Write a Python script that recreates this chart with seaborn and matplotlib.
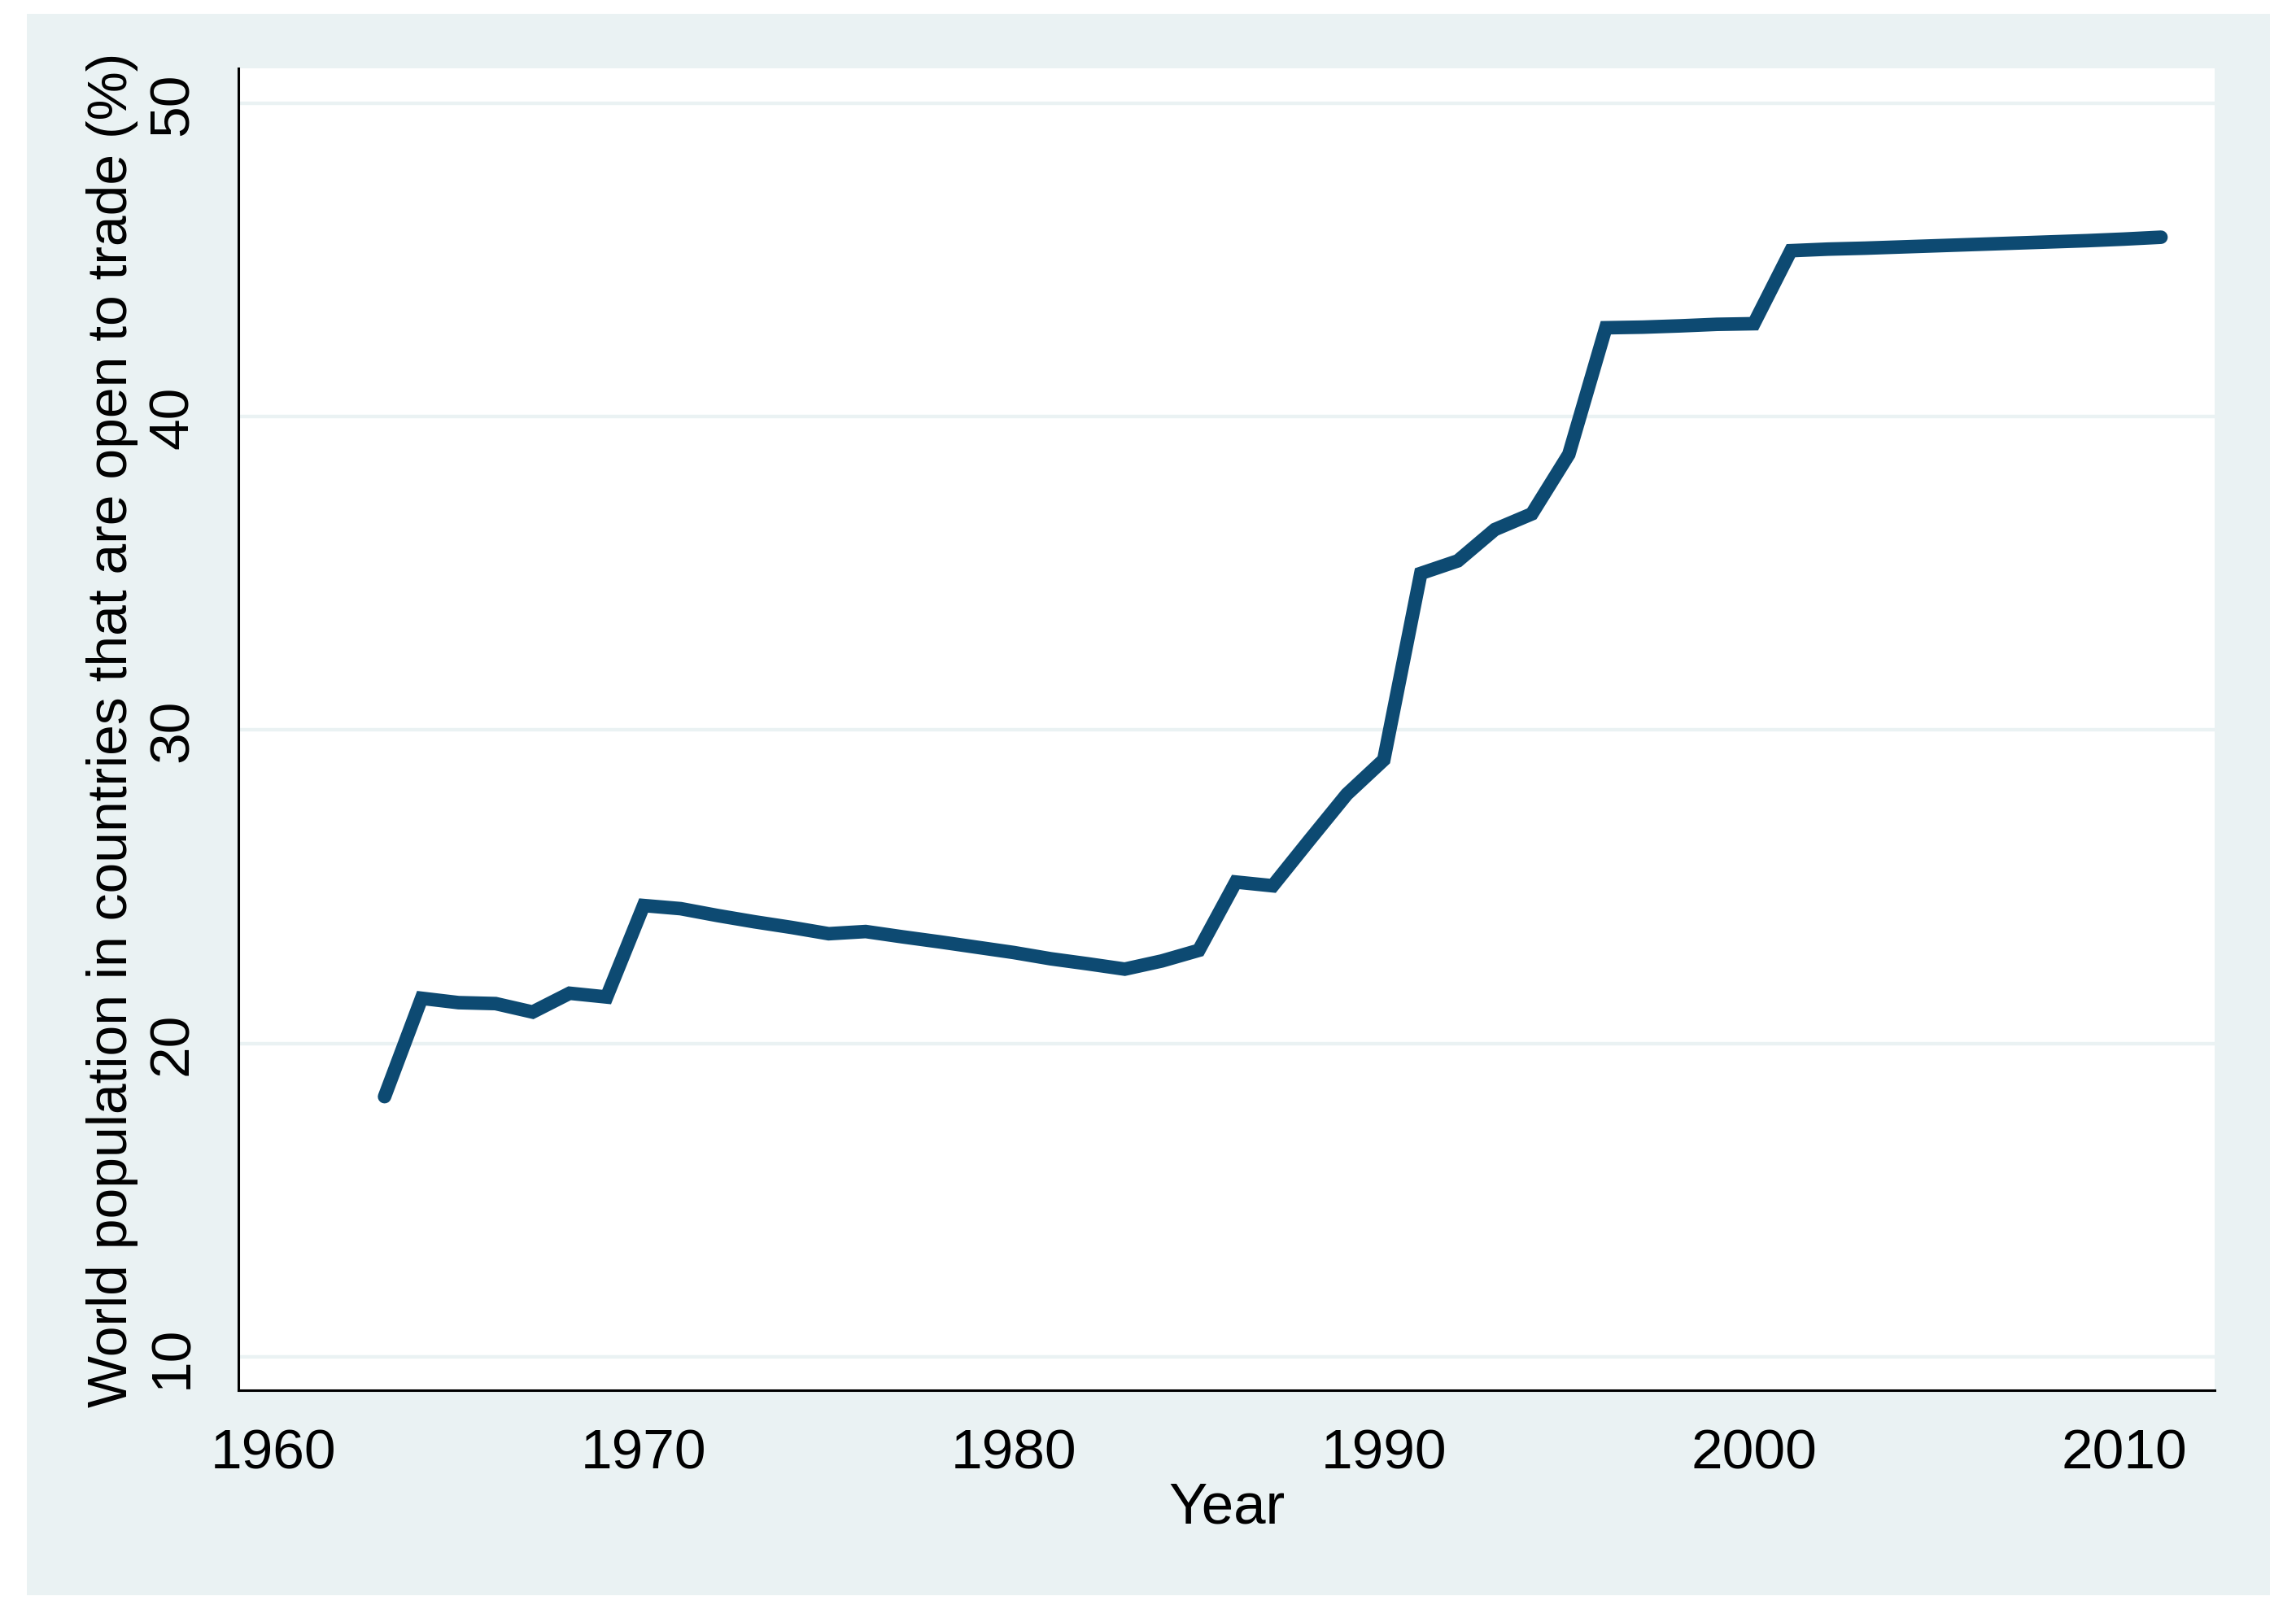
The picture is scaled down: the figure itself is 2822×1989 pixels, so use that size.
import numpy as np
import pandas as pd
import matplotlib
matplotlib.use("Agg")
import matplotlib.pyplot as plt
import seaborn as sns
from matplotlib.patches import Rectangle

# Data
years = list(range(1963, 2012))
share_open = [
    18.3, 21.44, 21.3, 21.27, 21.0, 21.6, 21.48,           # 1963-1969
    24.4, 24.3, 24.08, 23.88, 23.7, 23.5, 23.57, 23.4,     # 1970-1977
    23.24, 23.07, 22.9, 22.7, 22.54, 22.37, 22.63, 22.97,  # 1978-1985
    25.15, 25.03, 26.5, 27.95, 29.05,                      # 1986-1990
    35.0, 35.4, 36.4, 36.9, 38.8,                          # 1991-1995
    42.84, 42.86, 42.9, 42.95, 42.97,                      # 1996-2000
    45.3, 45.35, 45.38, 45.42, 45.46, 45.5, 45.54,         # 2001-2007
    45.58, 45.62, 45.67, 45.73,                            # 2008-2011
]
x_ticks = [1960, 1970, 1980, 1990, 2000, 2010]
y_ticks = [10, 20, 30, 40, 50]

df = pd.DataFrame({"Year": years, "share": share_open})

sns.set_theme(style="white")
plt.rcParams["font.family"] = ["Liberation Sans", "DejaVu Sans"]

W, H = 2822, 1990
fig = plt.figure(figsize=(W / 100, H / 100), dpi=100)
fig.patch.set_facecolor("white")

# light blue graph region behind the plot
fig.patches.append(Rectangle((33 / W, 1 - 1962 / H), (2790 - 33) / W, (1962 - 18) / H,
                             transform=fig.transFigure, facecolor="#eaf2f3",
                             edgecolor="none", zorder=-10))

ax = fig.add_axes([293 / W, 1 - 1710 / H, (2722 - 293) / W, (1710 - 85) / H])
ax.set_facecolor("white")

for yv in y_ticks:
    ax.axhline(yv, color="#eaf2f3", lw=3.2, zorder=0)

sns.lineplot(data=df, x="Year", y="share", ax=ax, color="#0d4a72",
             linewidth=12, solid_capstyle="round", solid_joinstyle="miter")

ax.set_xlim(1959.05, 2012.45)
ax.set_ylim(8.93, 51.12)
ax.set_xticks(x_ticks)
ax.set_yticks(y_ticks)

for s in ["top", "right"]:
    ax.spines[s].set_visible(False)
for s in ["left", "bottom"]:
    ax.spines[s].set_color("black")
    ax.spines[s].set_linewidth(2.2)

ax.tick_params(axis="both", which="major", direction="out", length=21,
               width=1.6, color="black", labelcolor="black")
ax.tick_params(axis="y", pad=14, labelsize=50)
ax.tick_params(axis="x", pad=12, labelsize=50)
for lbl in ax.get_yticklabels():
    lbl.set_rotation(90)
    lbl.set_va("center")

ax.set_xlabel("Year", fontsize=51, color="black")
ax.set_ylabel("World population in countries that are open to trade (%)",
              fontsize=48.8, color="black")
ax.xaxis.set_label_coords(0.5, -0.089)
ax.xaxis.label.set_va("center")
ax.yaxis.set_label_coords(-0.064, 0.5)
ax.yaxis.label.set_va("center")

fig.savefig("out.png", dpi=100, facecolor="white")
